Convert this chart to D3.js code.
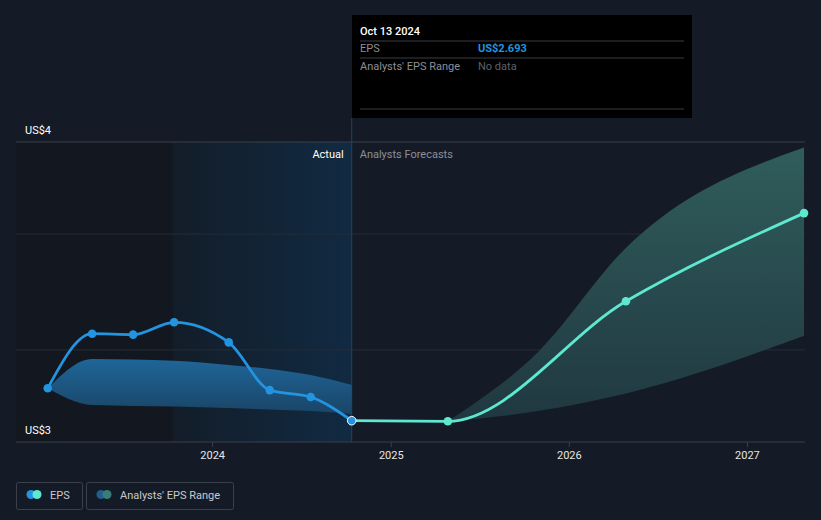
<html>
<head>
<style>
  body { margin: 0; background: #151b26; }
  text { font-family: Roboto, "Noto Sans", sans-serif; }
</style>
</head>
<body>
<svg id="container" width="821" height="520"></svg>
<script src="https://cdn.jsdelivr.net/npm/d3@7"></script>
<script>
// actual EPS (quarterly)
let actualDates = ["2023-01-29", "2023-04-30", "2023-07-23", "2023-10-15", "2024-02-04", "2024-04-28", "2024-07-21", "2024-10-13"]
let actualEps = [3.179, 3.361, 3.358, 3.399, 3.332, 3.173, 3.150, 3.071]
// past analyst range (blue band)
let pastLow = [3.179, 3.123, 3.120, 3.118, 3.113, 3.108, 3.103, 3.093]
let pastHigh = [3.179, 3.277, 3.275, 3.271, 3.257, 3.243, 3.223, 3.190]

// forecasts
let forecastDates = ["2024-10-13", "2025-04-28", "2026-04-28", "2027-04-28"]
let forecastEps = [3.071, 3.069, 3.469, 3.763]
let rangeDates = ["2025-04-28", "2025-10-28", "2026-04-28", "2027-04-28"]
let rangeLow = [3.069, 3.103, 3.162, 3.354]
let rangeHigh = [3.069, 3.297, 3.647, 3.982]

let yTicks = [3, 3.307, 3.693, 4]
let yLabels = ["US$3", "US$4"]
let xTicks = ["2024-01-01", "2025-01-01", "2026-01-01", "2027-01-01"]

let parse = d3.timeParse("%Y-%m-%d")
let svg = d3.select("#container")

let plotLeft = 16, plotRight = 805, plotTop = 142, plotBottom = 442

let x = d3.scaleTime()
    .domain([parse("2022-11-25"), parse("2027-04-30")])
    .range([plotLeft, plotRight])
let y = d3.scaleLinear().domain([3, 4]).range([plotBottom, plotTop])

let nowX = x(parse("2024-10-13"))
let yearAgoX = x(parse("2023-10-13"))

let defs = svg.append("defs")
let hl = defs.append("linearGradient").attr("id", "hl")
hl.append("stop").attr("offset", "0%").attr("stop-color", "#131d29")
hl.append("stop").attr("offset", "100%").attr("stop-color", "#112a42")

let blueG = defs.append("linearGradient").attr("id", "blueG")
    .attr("x1", 0).attr("x2", 0).attr("y1", 0).attr("y2", 1)
blueG.append("stop").attr("offset", "0%").attr("stop-color", "#1f6699")
blueG.append("stop").attr("offset", "100%").attr("stop-color", "#1a4466")

let tealG = defs.append("linearGradient").attr("id", "tealG")
    .attr("x1", 0).attr("x2", 0).attr("y1", 0).attr("y2", 1)
tealG.append("stop").attr("offset", "0%").attr("stop-color", "#305d5c")
tealG.append("stop").attr("offset", "100%").attr("stop-color", "#203840")

// background zones
svg.append("rect").attr("x", plotLeft).attr("y", plotTop).attr("width", yearAgoX - plotLeft)
    .attr("height", plotBottom - plotTop).attr("fill", "#13171f")
svg.append("rect").attr("x", yearAgoX).attr("y", plotTop).attr("width", nowX - yearAgoX)
    .attr("height", plotBottom - plotTop).attr("fill", "url(#hl)")

// gridlines
svg.selectAll(".grid").data(yTicks).enter().append("line")
    .attr("x1", plotLeft).attr("x2", plotRight)
    .attr("y1", d => y(d)).attr("y2", d => y(d))
    .attr("stroke", d => (d == 3 || d == 4) ? "#3b414b" : "#262c36")
    .attr("stroke-width", 1)

// y labels
svg.selectAll(".ylab").data(yLabels).enter().append("text")
    .attr("x", 25)
    .attr("y", (d, i) => y(i == 0 ? 3 : 4) - 8)
    .attr("fill", "#ffffff").attr("font-size", 11)
    .text(d => d)

// x axis
let xAxis = d3.axisBottom(x)
    .tickValues(xTicks.map(parse))
    .tickFormat(d3.timeFormat("%Y"))
    .tickSize(5).tickPadding(4)
let gx = svg.append("g").attr("transform", `translate(0,${plotBottom})`).call(xAxis)
gx.select(".domain").remove()
gx.selectAll("line").attr("stroke", "#3b414b")
gx.selectAll("text").attr("fill", "#e6e6e6").attr("font-size", 11)
    .attr("font-family", "Roboto, sans-serif")

// "now" line
svg.append("line").attr("x1", nowX).attr("x2", nowX).attr("y1", 118).attr("y2", plotBottom)
    .attr("stroke", "#1d4565").attr("stroke-width", 1)

svg.append("text").attr("x", nowX - 8).attr("y", 158).attr("text-anchor", "end")
    .attr("fill", "#ffffff").attr("font-size", 11).text("Actual")
svg.append("text").attr("x", nowX + 8).attr("y", 158)
    .attr("fill", "#8b8f96").attr("font-size", 11).text("Analysts Forecasts")

// past range band
let pastRange = actualDates.map((d, i) => ({ date: parse(d), lo: pastLow[i], hi: pastHigh[i] }))
let area = d3.area().curve(d3.curveMonotoneX)
    .x(d => x(d.date)).y0(d => y(d.lo)).y1(d => y(d.hi))
svg.append("path").attr("d", area(pastRange)).attr("fill", "url(#blueG)")

// forecast range band
let fRange = rangeDates.map((d, i) => ({ date: parse(d), lo: rangeLow[i], hi: rangeHigh[i] }))
svg.append("path").attr("d", area(fRange)).attr("fill", "url(#tealG)")

let line = d3.line().curve(d3.curveMonotoneX)
    .x(d => x(d.date)).y(d => y(d.v))

let actual = actualDates.map((d, i) => ({ date: parse(d), v: actualEps[i] }))
let forecast = forecastDates.map((d, i) => ({ date: parse(d), v: forecastEps[i] }))

svg.append("path").attr("d", line(forecast)).attr("fill", "none")
    .attr("stroke", "#5ee8d0").attr("stroke-width", 2.8)
svg.append("path").attr("d", line(actual)).attr("fill", "none")
    .attr("stroke", "#2394df").attr("stroke-width", 2.8)

svg.selectAll(".fdot").data(forecast.slice(1)).enter().append("circle")
    .attr("cx", d => x(d.date)).attr("cy", d => y(d.v)).attr("r", 4.3)
    .attr("fill", "#5ee8d0")
svg.selectAll(".adot").data(actual).enter().append("circle")
    .attr("cx", d => x(d.date)).attr("cy", d => y(d.v)).attr("r", 4.3)
    .attr("fill", "#2394df")
    .attr("stroke", (d, i) => i == actual.length - 1 ? "#ffffff" : "none")
    .attr("stroke-width", 1)

// tooltip
let tip = svg.append("g")
tip.append("rect").attr("x", 352).attr("y", 15).attr("width", 340).attr("height", 103).attr("fill", "#000000")
tip.append("text").attr("x", 360).attr("y", 35).attr("fill", "#ffffff").attr("font-size", 11)
    .attr("font-weight", 500).text("Oct 13 2024")
let sepY = [41, 58, 109]
tip.selectAll(".sep").data(sepY).enter().append("line")
    .attr("x1", 360).attr("x2", 684).attr("y1", d => d).attr("y2", d => d)
    .attr("stroke", "#3a3d42")
tip.append("text").attr("x", 360).attr("y", 52).attr("fill", "#8b8f96").attr("font-size", 11).text("EPS")
tip.append("text").attr("x", 478).attr("y", 52).attr("fill", "#2394df").attr("font-size", 11)
    .attr("font-weight", "bold").text("US$2.693")
tip.append("text").attr("x", 360).attr("y", 70).attr("fill", "#8b8f96").attr("font-size", 11).text("Analysts' EPS Range")
tip.append("text").attr("x", 478).attr("y", 70).attr("fill", "#5d6168").attr("font-size", 11).text("No data")

// legend
let legend = [
    { label: "EPS", x: 16, w: 66, c1: "#2394df", c2: "#5ee8d0" },
    { label: "Analysts' EPS Range", x: 86, w: 147, c1: "#1f5f8f", c2: "#3a7d78" }
]
let lg = svg.selectAll(".lg").data(legend).enter().append("g")
lg.append("rect").attr("x", d => d.x + 0.5).attr("y", 482.5).attr("width", d => d.w).attr("height", 27)
    .attr("rx", 2).attr("fill", "none").attr("stroke", "#3b414b")
lg.append("circle").attr("cx", d => d.x + 15).attr("cy", 494.5).attr("r", 4.5).attr("fill", d => d.c1)
lg.append("circle").attr("cx", d => d.x + 21).attr("cy", 494.5).attr("r", 4.5).attr("fill", d => d.c2)
lg.append("text").attr("x", d => d.x + 34).attr("y", 498.5).attr("fill", "#c8cacd").attr("font-size", 11)
    .text(d => d.label)
</script>
</body>
</html>
